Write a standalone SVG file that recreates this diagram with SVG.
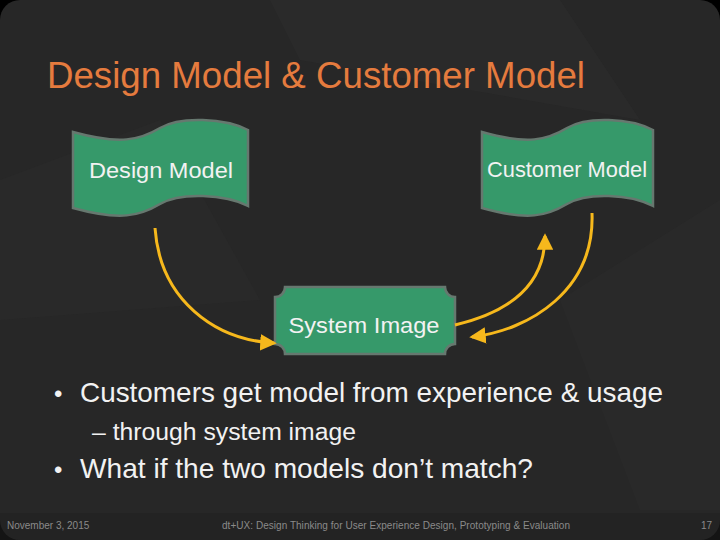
<svg xmlns="http://www.w3.org/2000/svg" width="720" height="540" viewBox="0 0 720 540">
<defs>
<style>
.bg{fill:#272727}
.tex{fill:#2d2d2d}
.node{fill:#36996a;stroke:#66786f;stroke-width:2.5}
.lbl{font-family:"Liberation Sans",Arial,sans-serif;fill:#f2f2f2;text-anchor:middle}
.title{font-family:"Liberation Sans",Arial,sans-serif;fill:#e57b3e;font-size:36px}
.body{font-family:"Liberation Sans",Arial,sans-serif;fill:#f2f2f2}
.foot{font-family:"Liberation Sans",Arial,sans-serif;fill:#8a8a8a;font-size:10px}
.arr{fill:none;stroke:#f6b81c;stroke-width:3}
</style>
<marker id="ah" viewBox="0 0 12 12" refX="10" refY="6" markerWidth="5.5" markerHeight="5.5" markerUnits="strokeWidth" orient="auto">
<path d="M0,0 L12,6 L0,12 Z" fill="#f6b81c"/>
</marker>
</defs>
<rect width="720" height="540" fill="#000"/>
<rect width="720" height="540" rx="20" class="bg"/>
<polygon class="tex" points="270,0 560,0 640,120 300,60" opacity="0.5"/>
<polygon class="tex" points="0,180 160,120 260,300 0,320" opacity="0.4"/>
<polygon class="tex" points="560,300 720,200 720,510 640,510" opacity="0.4"/>
<rect x="0" y="513" width="720" height="27" fill="#222" opacity="0.6"/>

<text class="title" x="47" y="88" textLength="538" lengthAdjust="spacingAndGlyphs">Design Model &amp; Customer Model</text>

<g id="design-model">
<path class="node" d="M73,132 C120,145 140,140 160,128 C180,116 225,118 248,130 L248,206 C225,194 180,192 160,204 C140,216 120,221 73,208 Z"/>
<text class="lbl" x="161" y="178" font-size="22" textLength="144" lengthAdjust="spacingAndGlyphs">Design Model</text>
</g>

<g id="customer-model">
<path class="node" d="M482,132 C528,145 547,140 567,128 C587,116 630,118 653,130 L653,206 C630,194 587,192 567,204 C547,216 528,221 482,208 Z"/>
<text class="lbl" x="567" y="177" font-size="22" textLength="160" lengthAdjust="spacingAndGlyphs">Customer Model</text>
</g>

<g id="system-image">
<path class="node" d="M285,287 L445,287 A10,10 0 0 0 455,297 L455,344 A10,10 0 0 0 445,354 L285,354 A10,10 0 0 0 275,344 L275,297 A10,10 0 0 0 285,287 Z"/>
<text class="lbl" x="364" y="333" font-size="22" textLength="151" lengthAdjust="spacingAndGlyphs">System Image</text>
</g>

<g id="connectors">
<path class="arr" d="M155,228 C160,300 215,340 274,343" marker-end="url(#ah)"/>
<path class="arr" d="M455,325 C510,312 545,285 545,236" marker-end="url(#ah)"/>
<path class="arr" d="M592,213 C595,290 530,330 472,337" marker-end="url(#ah)"/>
</g>

<text class="body" x="54" y="402" font-size="24">•</text>
<text class="body" x="80" y="402" font-size="28" textLength="583" lengthAdjust="spacingAndGlyphs">Customers get model from experience &amp; usage</text>
<text class="body" x="92" y="440" font-size="23" textLength="264" lengthAdjust="spacingAndGlyphs">– through system image</text>
<text class="body" x="54" y="478" font-size="24">•</text>
<text class="body" x="80" y="478" font-size="28" textLength="453" lengthAdjust="spacingAndGlyphs">What if the two models don’t match?</text>

<text class="foot" x="7" y="529">November 3, 2015</text>
<text class="foot" x="396" y="529" text-anchor="middle" textLength="348">dt+UX: Design Thinking for User Experience Design, Prototyping &amp; Evaluation</text>
<text class="foot" x="712" y="529" text-anchor="end">17</text>
</svg>
